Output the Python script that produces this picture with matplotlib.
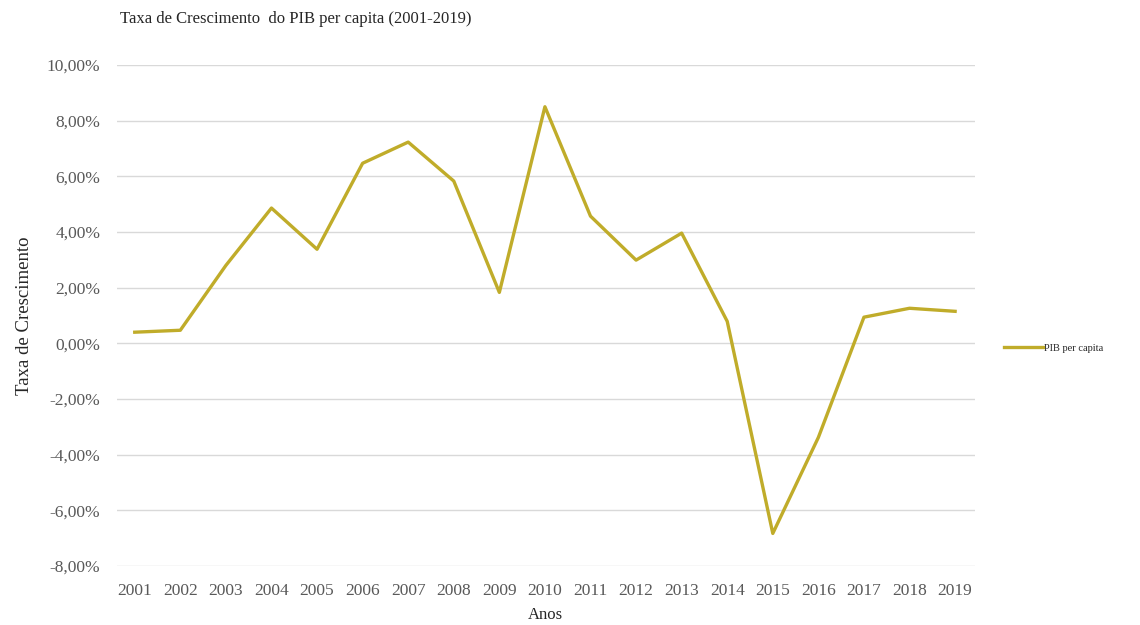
import numpy as np
import matplotlib.pyplot as plt
from matplotlib.ticker import FuncFormatter

plt.rcParams['font.family'] = ['Liberation Serif', 'DejaVu Serif']

years = [str(y) for y in range(2001, 2020)]
pib_per_capita = [0.40, 0.47, 2.8, 4.86, 3.38, 6.47, 7.23, 5.83, 1.83, 8.50,
                  4.57, 2.99, 3.96, 0.79, -6.83, -3.38, 0.94, 1.26, 1.15]
y_ticks = [-8, -6, -4, -2, 0, 2, 4, 6, 8, 10]

line_color = '#C0AC2A'
text_color = '#595959'

fig = plt.figure(figsize=(11.4, 6.25), dpi=100)
ax = fig.add_axes([0.1026, 0.0944, 0.7524, 0.8016])

x = np.arange(len(years))
ax.plot(x, pib_per_capita, color=line_color, linewidth=2.4, label='PIB per capita')

ax.set_xlim(-0.39, len(years) - 0.57)
ax.set_ylim(-8, 10)
ax.set_yticks(y_ticks)
ax.yaxis.set_major_formatter(FuncFormatter(lambda v, p: f'{v:.2f}%'.replace('.', ',')))
ax.set_xticks(x)
ax.set_xticklabels(years)

ax.grid(axis='y', color='#d9d9d9', linewidth=1)
ax.set_axisbelow(True)
for s in ax.spines.values():
    s.set_visible(False)
ax.tick_params(axis='both', length=0, labelsize=12.5, colors=text_color)
ax.tick_params(axis='y', pad=12)
ax.tick_params(axis='x', pad=12)

ax.set_xlabel('Anos', fontsize=12, color='#262626', labelpad=6)
ax.set_ylabel('Taxa de Crescimento', fontsize=13.5, color='#262626', labelpad=10)
fig.text(0.105, 0.97, 'Taxa de Crescimento  do PIB per capita (2001-2019)',
         fontsize=12, color='#262626', ha='left', va='center')

ax.legend(loc='center left', bbox_to_anchor=(1.023, 0.435), frameon=False,
          fontsize=7.5, handlelength=3.8, handletextpad=0.05, labelcolor='#262626')

fig.savefig('out.png', dpi=100)
